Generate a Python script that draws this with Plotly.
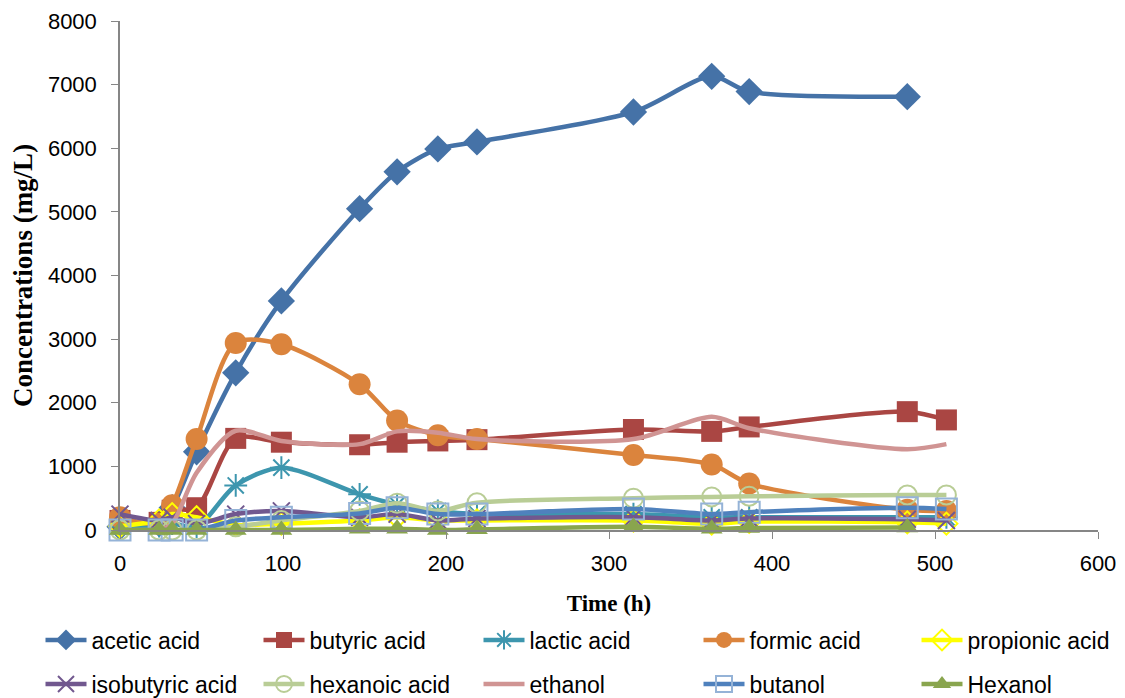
import plotly.graph_objects as go

time_h = [0, 24, 32, 47, 71, 99, 147, 170, 195, 219, 315, 363, 386, 483, 507]

acetic = [50, 100, 350, 1230, 2470, 3600, 5050, 5630, 5990, 6100, 6570, 7130, 6890, 6810, None]
butyric = [150, 120, 310, 350, 1440, 1380, 1340, 1380, 1400, 1420, 1580, 1550, 1620, 1860, 1730]
lactic = [50, 60, 100, 50, 700, 980, 560, 400, 300, 250, 250, 200, 200, 200, 200]
formic = [200, 100, 390, 1430, 2940, 2920, 2290, 1720, 1490, 1430, 1180, 1030, 730, 320, 300]
propionic = [60, 150, 250, 200, 80, 100, 150, 200, 150, 150, 150, 100, 130, 120, 100]
isobutyric = [250, 150, 200, 100, 250, 300, 200, 250, 150, 180, 200, 150, 180, 170, 150]
hexanoic = [0, 0, 0, 0, 50, 150, 300, 420, 300, 430, 500, 520, 530, 550, 550]
ethanol = [0, 0, 100, 900, 1560, 1400, 1350, 1550, 1530, 1430, 1430, 1780, 1600, 1270, 1350]
butanol = [0, 0, 0, 0, 150, 200, 260, 350, 250, 250, 330, 250, 280, 350, 330]
hexanol = [0, 0, 0, 0, 0, 0, 20, 20, 0, 10, 50, 20, 30, 40, None]

series = [
    ("acetic acid", acetic, "#4572A7", dict(symbol="diamond", size=21, color="#4572A7")),
    ("butyric acid", butyric, "#AA4643", dict(symbol="square", size=21, color="#AA4643")),
    ("lactic acid", lactic, "#3D96AE", dict(symbol="asterisk-open", size=19, color="#3D96AE", line=dict(color="#3D96AE", width=2))),
    ("formic acid", formic, "#DB843D", dict(symbol="circle", size=22, color="#DB843D")),
    ("propionic acid", propionic, "#FFFF00", dict(symbol="diamond-open", size=17, color="#FFFF00", line=dict(color="#FFFF00", width=2))),
    ("isobutyric acid", isobutyric, "#71588F", dict(symbol="x-thin-open", size=17, color="#71588F", line=dict(color="#71588F", width=2))),
    ("hexanoic acid", hexanoic, "#B9CD96", dict(symbol="circle-open", size=19, color="#B9CD96", line=dict(color="#B9CD96", width=2))),
    ("ethanol", ethanol, "#D09493", None),
    ("butanol", butanol, "#4F81BD", dict(symbol="square-open", size=21, color="#95B3D7", line=dict(color="#95B3D7", width=2))),
    ("Hexanol", hexanol, "#89A54E", dict(symbol="triangle-up", size=19, color="#89A54E")),
]

# page offset (browser body margin)
OFF = 8
W, H = 1125, 698
# target plot area in page pixels: x 120..1098, y 21..530
L = 120 - OFF
T = 21 - OFF
R = W - (1098 - OFF)
B = H - (530 - OFF)
pw, ph = W - L - R, H - T - B

marker_x = [67, 285, 505, 725, 943]
row_y = [640, 684]

fig = go.Figure()
layout_legends = {}
for i, (name, vals, col, mk) in enumerate(series):
    lg = "legend" if i == 0 else f"legend{i+1}"
    kw = dict(
        x=time_h, y=vals, name=name,
        line=dict(color=col, width=4.5, shape="spline", smoothing=0.8),
        connectgaps=False, cliponaxis=False,
        legend=lg, showlegend=True,
    )
    if mk is None:
        kw["mode"] = "lines"
    else:
        kw["mode"] = "lines+markers"
        kw["marker"] = mk
    fig.add_trace(go.Scatter(**kw))
    mx = marker_x[i % 5] - OFF
    my = row_y[i // 5] - OFF
    layout_legends[lg] = dict(
        x=(mx - 26.5 - L) / pw, y=(H - B - my) / ph,
        xanchor="left", yanchor="middle",
        font=dict(family="Liberation Sans", size=23, color="#000000"),
        bgcolor="rgba(0,0,0,0)", itemwidth=41, borderwidth=0,
    )

fig.update_layout(
    width=W, height=H, showlegend=True,
    margin=dict(l=L, r=R, t=T, b=B, autoexpand=False),
    plot_bgcolor="white", paper_bgcolor="white",
    xaxis=dict(
        range=[0, 600], dtick=100, tick0=0,
        showline=True, linecolor="#868686", linewidth=1.5,
        ticks="outside", ticklen=7, tickcolor="#868686",
        showgrid=False, zeroline=False, ticklabelstandoff=6,
        tickfont=dict(family="Liberation Sans", size=22, color="#000000"),
        title=dict(text="<b>Time (h)</b>", font=dict(family="Liberation Serif", size=23, color="#000000"), standoff=20),
    ),
    yaxis=dict(
        range=[0, 8000], dtick=1000, tick0=0,
        showline=True, linecolor="#868686", linewidth=1.5,
        ticks="outside", ticklen=7, tickcolor="#868686",
        showgrid=False, zeroline=False, ticklabelstandoff=10,
        tickfont=dict(family="Liberation Sans", size=22, color="#000000"),
        title=dict(text="<b>Concentrations (mg/L)</b>", font=dict(family="Liberation Serif", size=27, color="#000000"), standoff=11),
    ),
    **layout_legends,
)

fig.write_html("out.html")
